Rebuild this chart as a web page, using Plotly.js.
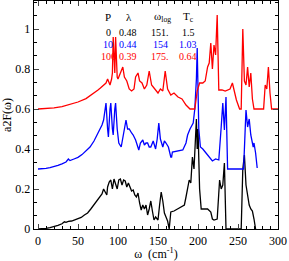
<!DOCTYPE html>
<html><head><meta charset="utf-8">
<script src="https://cdn.plot.ly/plotly-3.0.1.min.js"></script>
<style>html,body{margin:0;padding:0;background:#fff}#plot{width:289px;height:261px}</style>
</head><body><div id="plot"></div>
<script>
// P = 0 GPa (black, offset 0)
var wBlack = [0,5,10,15,20,25,30,33,35,38,
  42,46,50,54,58,62,66,70,74,78,
  80,82,84,86,87,89,91,93,95,97,
  99,101,103,105,107,109,111,113,115,117,
  119,121,123,125,127,129,131,133,135,137,
  139,141,143,145,147,150,152,154,156,158,
  160,162,164,166,170,175,180,183,185,187,
  189,191,193,195,197,198,199,200,202,204,
  208,212,216,218,220,224,227,229,231,233,
  235,254,256,258,260,262,264,266,268,270,
  272];
var aBlack = [0,0.001,0.003,0.007,0.012,0.018,0.026,0.036,0.033,0.038,
  0.04,0.045,0.05,0.058,0.07,0.08,0.1,0.12,0.14,0.16,
  0.175,0.2,0.185,0.17,0.21,0.235,0.245,0.2,0.25,0.22,
  0.2,0.245,0.25,0.22,0.245,0.24,0.21,0.23,0.21,0.19,
  0.195,0.17,0.16,0.18,0.13,0.095,0.12,0.1,0.12,0.07,
  0.1,0.14,0.09,0.045,0.06,0.045,0.12,0.185,0.14,0.08,
  0.06,0.04,0.0,0.085,0.09,0.1,0.11,0.12,0.16,0.2,
  0.245,0.23,0.36,0.3,0.45,0.55,0.4,0.5,0.2,0.1,
  0.1,0.1,0.085,0.05,0.045,0.05,0.245,0.2,0.22,0.33,
  0.0,0.0,0.3,0.37,0.22,0.16,0.12,0.1,0.09,0.05,
  0.0];
// P = 10 GPa (blue, drawn offset +0.3)
var wBlue = [0,5,10,15,20,25,30,35,38,40,
  45,50,55,60,65,70,74,78,80,82,
  84,85,87,88,90,91,93,94,96,97,
  99,101,104,107,110,112,114,117,119,122,
  124,126,128,131,133,135,137,139,141,144,
  147,149,151,153,156,158,160,163,166,167,
  168,175,181,185,187,190,194,196,198,199,
  200,201,203,206,210,214,218,222,226,229,
  231,233,235,237,257,259,260,262,264,266,
  269,270,272,274];
var aBlue = [0.3,0.301,0.303,0.307,0.312,0.318,0.326,0.335,0.35,0.342,
  0.35,0.358,0.372,0.39,0.41,0.44,0.47,0.5,0.52,0.545,
  0.6,0.63,0.5,0.46,0.6,0.63,0.5,0.47,0.6,0.63,
  0.5,0.43,0.41,0.47,0.545,0.5,0.5,0.48,0.47,0.445,
  0.42,0.395,0.43,0.445,0.42,0.43,0.43,0.41,0.41,0.44,
  0.4,0.45,0.53,0.45,0.41,0.44,0.43,0.41,0.36,0.36,
  0.385,0.39,0.395,0.43,0.47,0.5,0.53,0.6,0.75,0.905,
  0.7,0.5,0.41,0.4,0.38,0.36,0.34,0.35,0.345,0.51,
  0.63,0.495,0.66,0.3,0.3,0.5,0.595,0.51,0.55,0.47,
  0.41,0.43,0.38,0.305];
// P = 100 GPa (red, drawn offset +0.6)
var wRed = [0,10,20,30,40,50,60,65,70,75,
  78,82,85,87,89,90,92,93,94,95,
  96,97,98,99,100,103,106,108,111,114,
  117,120,122,125,127,130,133,136,139,142,
  146,150,153,156,159,162,166,170,175,180,
  185,190,196,199,202,206,209,212,214,216,
  218,220,222,224,226,230,234,240,243,245,
  248,252,254,256,258,260,262,264,266,268,
  270,282,284,286,288,290,292,300];
var aRed = [0.6,0.602,0.606,0.612,0.622,0.635,0.652,0.665,0.68,0.695,
  0.705,0.72,0.73,0.75,0.73,0.72,0.75,0.78,0.96,0.8,
  0.78,0.96,0.8,0.76,0.75,0.78,0.81,0.76,0.74,0.7,
  0.69,0.7,0.76,0.78,0.74,0.73,0.7,0.72,0.79,0.72,
  0.7,0.68,0.7,0.69,0.79,0.7,0.67,0.68,0.66,0.65,
  0.62,0.6,0.6,0.69,0.73,0.73,0.74,0.81,0.83,0.93,
  0.8,0.92,0.87,1.07,0.695,0.695,0.69,0.7,0.73,0.69,
  0.645,0.6,0.6,1.0,0.74,0.72,0.81,0.71,0.78,0.65,
  0.6,0.6,0.72,0.7,0.81,0.68,0.6,0.6];

// table
var headers = ["P", "λ", "ω<sub>log</sub>", "T<sub>c</sub>"];
var rowP = ["0", "10", "100"];
var rowLambda = ["0.48", "0.44", "0.39"];
var rowOmegaLog = ["151.", "154", "175."];
var rowTc = ["1.5", "1.03", "0.64"];
var rowColors = ["#000000", "#0000ff", "#ff0000"];

var font = "Liberation Serif, Times New Roman, serif";
var traces = [
  {x: wBlack, y: aBlack, mode: "lines", line: {color: "#000000", width: 1.3}},
  {x: wBlue, y: aBlue, mode: "lines", line: {color: "#0000ff", width: 1.3}},
  {x: wRed, y: aRed, mode: "lines", line: {color: "#ff0000", width: 1.3}}
];

var colX = [87.5, 112.5, 152.5, 188];
var headX = [87.5, 114, 155, 187.5];
var rowY = [0.985, 0.925, 0.865];
var ann = [];
headers.forEach(function(h, i) {
  ann.push({x: headX[i], y: 1.06, xref: "x", yref: "y", text: h, showarrow: false,
    font: {family: font, size: 11, color: "#000"}});
});
[rowP, rowLambda, rowOmegaLog, rowTc].forEach(function(col, j) {
  col.forEach(function(t, i) {
    ann.push({x: colX[j], y: rowY[i], xref: "x", yref: "y", text: t, showarrow: false,
      font: {family: font, size: 10, color: rowColors[i]}});
  });
});

var layout = {
  width: 289, height: 261,
  margin: {l: 34, r: 11, t: 1, b: 32},
  paper_bgcolor: "#fff", plot_bgcolor: "#fff",
  showlegend: false,
  font: {family: font, size: 12, color: "#000"},
  xaxis: {
    range: [-5, 300], tickvals: [0, 50, 100, 150, 200, 250, 300],
    ticks: "inside", ticklen: 5, tickwidth: 1, mirror: "allticks",
    showline: true, linecolor: "#000", linewidth: 1.3,
    showgrid: false, zeroline: false,
    minor: {dtick: 10, tick0: 0, ticks: "inside", ticklen: 3, tickcolor: "#000", showgrid: false},
    tickfont: {family: font, size: 12},
    title: {text: "ω  (cm<sup>-1</sup>)", font: {family: font, size: 12}, standoff: 4}
  },
  yaxis: {
    range: [0, 1.14], tickvals: [0, 0.2, 0.4, 0.6, 0.8, 1],
    ticktext: ["0", "0.2", "0.4", "0.6", "0.8", "1"],
    ticks: "inside", ticklen: 5, tickwidth: 1, mirror: "allticks",
    showline: true, linecolor: "#000", linewidth: 1.3,
    showgrid: false, zeroline: false,
    minor: {dtick: 0.2/3, tick0: 0, ticks: "inside", ticklen: 3, tickcolor: "#000", showgrid: false},
    tickfont: {family: font, size: 12},
    title: {text: "a2F(ω)", font: {family: font, size: 12}, standoff: 2}
  },
  annotations: ann
};
Plotly.newPlot("plot", traces, layout, {staticPlot: true, displayModeBar: false});
</script></body></html>
